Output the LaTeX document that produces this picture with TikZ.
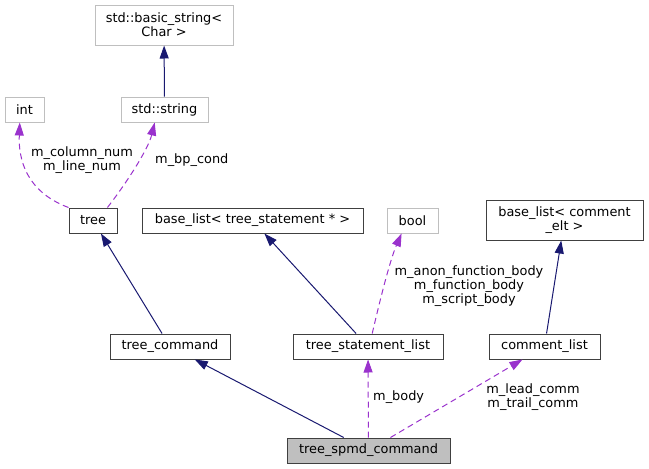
\documentclass[tikz,border=0pt]{standalone}
\usepackage{fontspec}
\setmainfont{DejaVu Sans}
\usetikzlibrary{arrows.meta}
\definecolor{inhblue}{HTML}{191970}
\definecolor{usepurple}{HTML}{9A32CD}
\definecolor{boxgray}{HTML}{BFBFBF}
\begin{document}
\begin{tikzpicture}[x=1pt,y=-1pt,
  cls/.style={draw=black!75,fill=white,line width=1pt,minimum height=25pt,inner sep=0pt,align=center,font=\fontsize{12.9}{14}\selectfont},
  extcls/.style={cls,draw=boxgray},
  inh/.style={inhblue,line width=1pt,-{Triangle[length=13pt,width=9pt]}},
  use/.style={usepurple,line width=1pt,dash pattern=on 6pt off 4pt,-{Triangle[length=13pt,width=9pt]}},
  lbl/.style={inner sep=0pt,align=center,font=\fontsize{12.9}{14}\selectfont}]
\useasboundingbox (0,0) rectangle (649,469);
% classes
\node[extcls,minimum width=138pt,minimum height=40pt] (basicstr) at (164,25) {std::basic\_string<\\Char >};
\node[extcls,minimum width=39pt] (int) at (24.5,109.5) {int};
\node[extcls,minimum width=87pt] (stdstr) at (164.5,109.5) {std::string};
\node[cls,minimum width=48pt] (tree) at (93,220.5) {tree};
\node[cls,minimum width=221pt] (baselistts) at (252.5,220.5) {base\_list< tree\_statement * >};
\node[extcls,minimum width=51pt] (bool) at (412.5,220.5) {bool};
\node[cls,minimum width=157pt,minimum height=40pt] (baselistce) at (564.5,220) {base\_list< comment\\\_elt >};
\node[cls,minimum width=120pt] (treecmd) at (170,346.5) {tree\_command};
\node[cls,minimum width=150pt] (stmtlist) at (368,346.5) {tree\_statement\_list};
\node[cls,minimum width=111pt] (commlist) at (544.5,346.5) {comment\_list};
\node[cls,fill=boxgray,minimum width=163pt] (spmd) at (368.5,450.5) {tree\_spmd\_command};
% inheritance
\draw[inh] (stdstr) -- (basicstr);
\draw[inh] (treecmd) -- (tree);
\draw[inh] (stmtlist) -- (baselistts);
\draw[inh] (commlist) -- (baselistce);
\draw[inh] (spmd) -- (treecmd);
% members
\draw[use] (tree.north west) .. controls (35,195) and (18,170) .. (int.250);
\draw[use] (tree.42) .. controls (125,185) and (148,150) .. (stdstr.233);
\draw[use] (stmtlist.72) .. controls (380,300) and (390,260) .. (bool.230);
\draw[use] (spmd) -- (stmtlist);
\draw[use] (spmd) -- (commlist);
% labels
\node[lbl] (lblint) at (82,160.5) {m\_column\_num\\m\_line\_num};
\node[lbl,anchor=west] (lblstr) at (155,160) {m\_bp\_cond};
\node[lbl] (lblbool) at (469,286) {m\_anon\_function\_body\\m\_function\_body\\m\_script\_body};
\node[lbl,anchor=west] (lblbody) at (373,397) {m\_body};
\node[lbl] (lblcomm) at (533,397.5) {m\_lead\_comm\\m\_trail\_comm};
\end{tikzpicture}
\end{document}
